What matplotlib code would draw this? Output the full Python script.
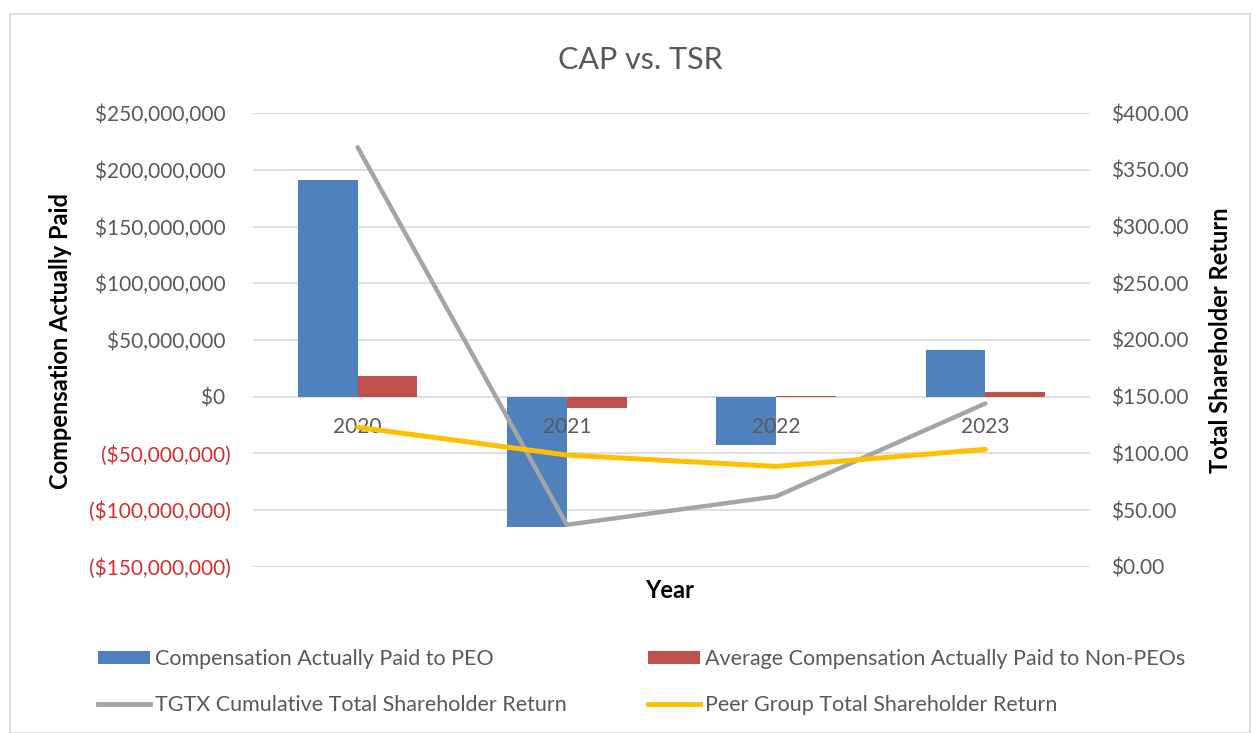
import matplotlib
matplotlib.use("Agg")
import matplotlib.pyplot as plt
from matplotlib.patches import Patch, Rectangle
from matplotlib.lines import Line2D
from matplotlib.ticker import FuncFormatter, MultipleLocator
import numpy as np

years = ["2020", "2021", "2022", "2023"]
cap_peo = [191e6, -115e6, -43e6, 41e6]
cap_non_peo = [18.3e6, -10.3e6, 0.5e6, 4.4e6]
tgtx_tsr = [370.0, 37.0, 62.0, 144.0]
peer_tsr = [123.0, 98.5, 88.5, 103.5]

series_names = ["Compensation Actually Paid to PEO",
                "Average Compensation Actually Paid to Non-PEOs",
                "TGTX Cumulative Total Shareholder Return",
                "Peer Group Total Shareholder Return"]

BLUE = "#4F81BD"
RED = "#C0504D"
GRAY = "#A5A5A5"
YELLOW = "#FFC000"
TXT = "#595959"
NEG = "#D0312D"

plt.rcParams['font.family'] = ['Lato', 'DejaVu Sans']

fig = plt.figure(figsize=(12.58, 7.33), dpi=100)
W, H = 1258, 733
ax = fig.add_axes([253 / W, 1 - 566.7 / H, (1090 - 253) / W, (566.7 - 113.3) / H])
ax2 = ax.twinx()

x = np.arange(len(years))
bw = 1 / 3.5
ax.bar(x - bw / 2, cap_peo, width=bw, color=BLUE, zorder=2)
ax.bar(x + bw / 2, cap_non_peo, width=bw, color=RED, zorder=2)

ax.set_xlim(-0.5, len(years) - 0.5)
ax.set_ylim(-150e6, 250e6)
ax.yaxis.set_major_locator(MultipleLocator(50e6))
ax.grid(axis='y', color='#D9D9D9', linewidth=1.2, zorder=0)
ax.set_axisbelow(True)

def money(v, pos):
    if abs(v) < 1:
        return "$0 "
    if v < 0:
        return "(${:,.0f})".format(-v)
    return "${:,.0f} ".format(v)

ax.yaxis.set_major_formatter(FuncFormatter(money))
ax.tick_params(axis='y', length=0, pad=16, labelsize=15, labelcolor=TXT)
for lab, val in zip(ax.get_yticklabels(), ax.get_yticks()):
    if val < 0:
        lab.set_color(NEG)
ax.set_xticks([])
for s in ax.spines.values():
    s.set_visible(False)

for i, yr in enumerate(years):
    ax.annotate(yr, (i, 0), xytext=(0, -20), textcoords='offset pixels',
                ha='center', va='top', fontsize=15, color=TXT, zorder=5)

ax2.plot(x, tgtx_tsr, color=GRAY, linewidth=3.2, zorder=3, solid_capstyle='round')
ax2.plot(x, peer_tsr, color=YELLOW, linewidth=3.6, zorder=3, solid_capstyle='round')
ax2.set_ylim(0, 400)
ax2.yaxis.set_major_locator(MultipleLocator(50))
ax2.yaxis.set_major_formatter(FuncFormatter(lambda v, p: "${:,.2f}".format(v)))
ax2.tick_params(axis='y', length=0, pad=15, labelsize=15, labelcolor=TXT)
for s in ax2.spines.values():
    s.set_visible(False)

fig.text(640 / W, 1 - 60 / H, "CAP vs. TSR", ha='center', va='center', fontsize=22, color=TXT)
fig.text(60 / W, 1 - 341 / H, "Compensation Actually Paid", rotation=90, ha='center', va='center',
         fontsize=17, fontweight='bold', color='black')
fig.text(1221 / W, 1 - 340 / H, "Total Shareholder Return", rotation=90, ha='center', va='center',
         fontsize=17, fontweight='bold', color='black')
fig.text(670 / W, 1 - 590 / H, "Year", ha='center', va='center', fontsize=17, fontweight='bold', color='black')

h_peo = Patch(facecolor=BLUE, edgecolor='none')
h_non = Patch(facecolor=RED, edgecolor='none')
h_tgtx = Line2D([0], [0], color=GRAY, linewidth=3.5)
h_peer = Line2D([0], [0], color=YELLOW, linewidth=3.5)

common = dict(frameon=False, fontsize=15.5, handlelength=2.42, handleheight=0.6,
              handletextpad=0.25, labelspacing=1.2, borderpad=0, borderaxespad=0,
              labelcolor=TXT)
leg1 = fig.legend([h_peo, h_tgtx], [series_names[0], series_names[2]],
                  loc='upper left', bbox_to_anchor=(98 / W, 1 - 649 / H), **common)
leg2 = fig.legend([h_non, h_peer], [series_names[1], series_names[3]],
                  loc='upper left', bbox_to_anchor=(648 / W, 1 - 649 / H), **common)

fig.patches.append(Rectangle((10 / W, 0), 1 - 18 / W, 1 - 14 / H, transform=fig.transFigure,
                             fill=False, edgecolor='#D9D9D9', linewidth=1.2))

fig.savefig("out.png", dpi=100)
